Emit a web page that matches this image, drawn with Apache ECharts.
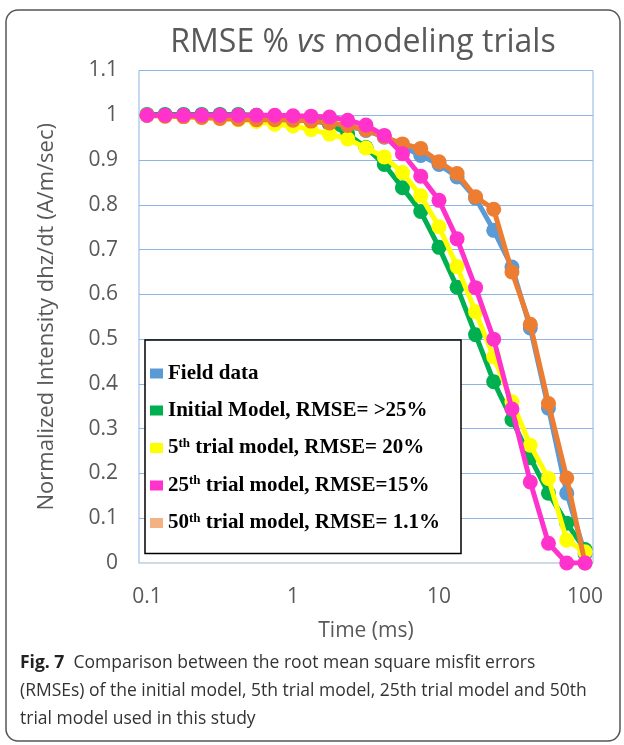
<!DOCTYPE html>
<html>
<head>
<meta charset="utf-8">
<script src="https://cdn.jsdelivr.net/npm/echarts@6/dist/echarts.min.js"></script>
<style>
  html, body { margin: 0; padding: 0; background: #fff; }
  #main { width: 624px; height: 745px; }
</style>
</head>
<body>
<div id="main"></div>
<script>
// time samples (ms)
var times = [0.1, 0.133, 0.178, 0.237, 0.316, 0.422, 0.562, 0.75, 1, 1.33, 1.78, 2.37, 3.16,
  4.22, 5.62, 7.5, 10, 13.3, 17.8, 23.7, 31.6, 42.2, 56.2, 75, 100];

var fieldData = [1, 1, 0.999, 0.998, 0.996, 0.994, 0.993, 0.992, 0.99, 0.987, 0.982, 0.976, 0.966,
  0.951, 0.93, 0.91, 0.89, 0.862, 0.815, 0.743, 0.661, 0.525, 0.346, 0.156, 0.02];
var initialModel = [1.002, 1.002, 1.002, 1.002, 1.002, 1.002, 1, 0.998, 0.996, 0.993, 0.98, 0.958, 0.928,
  0.89, 0.838, 0.785, 0.705, 0.616, 0.51, 0.405, 0.32, 0.235, 0.156, 0.089, 0.03];
var trial5 = [1, 0.998, 0.997, 0.995, 0.993, 0.99, 0.986, 0.98, 0.976, 0.968, 0.958, 0.947, 0.927,
  0.907, 0.872, 0.82, 0.751, 0.662, 0.561, 0.46, 0.36, 0.263, 0.189, 0.051, 0.025];
var trial25 = [1, 1, 1, 1, 1, 1, 1, 1, 0.999, 0.998, 0.996, 0.989, 0.978,
  0.955, 0.914, 0.864, 0.81, 0.724, 0.615, 0.5, 0.344, 0.181, 0.044, 0, 0];
var trial50 = [1, 0.998, 0.997, 0.995, 0.993, 0.991, 0.99, 0.99, 0.989, 0.987, 0.983, 0.977, 0.967,
  0.952, 0.936, 0.926, 0.896, 0.87, 0.818, 0.79, 0.65, 0.533, 0.356, 0.19, 0];

var seriesNames = ['Field data', 'Initial Model, RMSE= >25%', '5th trial model, RMSE= 20%',
  '25th trial model, RMSE=15%', '50th trial model, RMSE= 1.1%'];
var legendLabels = ['{t|Field data}', '{t|Initial Model, RMSE= >25%}', '{t|5}{s|th}{t| trial model, RMSE= 20%}',
  '{t|25}{s|th}{t| trial model, RMSE=15%}', '{t|50}{s|th}{t| trial model, RMSE= 1.1%}'];
var lineColors = ['#5B9BD5', '#00B050', '#FFFF00', '#FF33CC', '#ED7D31'];
var legendColors = ['#5B9BD5', '#00B050', '#FFFF00', '#FF33CC', '#F4B183'];

var chart = echarts.init(document.getElementById('main'), null, { renderer: 'canvas' });

var font = 'Open Sans';
var grey = '#595959';
var gridBlue = '#8EB4E3';

function makeSeries(idx, values, z) {
  return {
    type: 'line',
    name: seriesNames[idx],
    xAxisIndex: 1,
    yAxisIndex: 1,
    data: times.map(function (t, i) { return [t, values[i]]; }),
    symbol: 'circle',
    symbolSize: 15,
    showSymbol: true,
    lineStyle: { color: lineColors[idx], width: 5 },
    itemStyle: { color: lineColors[idx] },
    z: z,
    animation: false
  };
}

var option = {
  animation: false,
  grid: [
    { left: 139, right: 31, top: 70.5, bottom: 182, show: true, borderColor: gridBlue, borderWidth: 1 },
    { left: 147, right: 39, top: 70.5, bottom: 182 }
  ],
  xAxis: [
    {
      type: 'value', gridIndex: 0, min: 0, max: 1,
      axisLine: { show: true, lineStyle: { color: '#D9D9D9' } },
      axisTick: { show: false }, axisLabel: { show: false }, splitLine: { show: false }
    },
    {
      type: 'log', gridIndex: 1, logBase: 10, min: 0.1, max: 100,
      axisLine: { show: false }, axisTick: { show: false }, splitLine: { show: false },
      minorTick: { show: false },
      axisLabel: {
        margin: 24, fontFamily: font, fontSize: 21, color: grey,
        formatter: function (v) { return v < 1 ? v.toFixed(1) : String(Math.round(v)); }
      },
      name: 'Time (ms)', nameLocation: 'middle', nameGap: 58,
      nameTextStyle: { fontFamily: font, fontSize: 21, color: grey }
    }
  ],
  yAxis: [
    {
      type: 'value', gridIndex: 0, min: 0, max: 1.1, interval: 0.1,
      axisLine: { show: false }, axisTick: { show: false },
      splitLine: { show: true, lineStyle: { color: gridBlue, width: 1 } },
      axisLabel: { margin: 21, fontFamily: font, fontSize: 21, color: grey },
      name: 'Normalized Intensity dhz/dt (A/m/sec)', nameLocation: 'middle', nameGap: 81,
      nameTextStyle: { fontFamily: font, fontSize: 22, color: grey }
    },
    {
      type: 'value', gridIndex: 1, min: 0, max: 1.1, show: false
    }
  ],
  legend: {
    orient: 'vertical',
    left: 145, top: 340,
    padding: [23, 21, 20, 5],
    itemGap: 16,
    itemWidth: 13, itemHeight: 10,
    itemTextGap: 9,
    icon: 'rect',
    selectedMode: false,
    backgroundColor: '#fff',
    borderColor: '#000', borderWidth: 1.5,
    data: seriesNames.map(function (n, i) {
      return { name: n, itemStyle: { color: legendColors[i] } };
    }),
    formatter: function (name) { return legendLabels[seriesNames.indexOf(name)]; },
    textStyle: {
      fontFamily: 'Liberation Serif', fontWeight: 'bold', fontSize: 21, color: '#000',
      rich: {
        t: { fontFamily: 'Liberation Serif', fontWeight: 'bold', fontSize: 21, color: '#000', lineHeight: 22 },
        s: { fontFamily: 'Liberation Serif', fontWeight: 'bold', fontSize: 13, color: '#000', verticalAlign: 'top', lineHeight: 11 }
      }
    },
    z: 20
  },
  series: [
    makeSeries(0, fieldData, 2),
    makeSeries(1, initialModel, 3),
    makeSeries(2, trial5, 4),
    makeSeries(4, trial50, 5),
    makeSeries(3, trial25, 6)
  ],
  graphic: [
    {
      type: 'rect', shape: { x: 6, y: 10, width: 614, height: 731, r: 12 },
      style: { fill: 'none', stroke: '#555', lineWidth: 1.5 }, z: 50, silent: true
    },
    {
      type: 'text', x: 363, y: 43,
      style: {
        text: '{a|RMSE % }{i|vs}{a| modeling trials}',
        align: 'center', verticalAlign: 'middle',
        rich: {
          a: { fontFamily: font, fontSize: 32, fill: grey },
          i: { fontFamily: font, fontSize: 32, fontStyle: 'italic', fill: grey }
        }
      }
    },
    {
      type: 'text', x: 20, y: 649,
      style: {
        text: '{b|Fig. 7}{r|  Comparison between the root mean square misfit errors}\n' +
          '{r|(RMSEs) of the initial model, 5th trial model, 25th trial model and 50th}\n' +
          '{r|trial model used in this study}',
        rich: {
          b: { fontFamily: font, fontSize: 17.5, fontWeight: 'bold', fill: '#222', lineHeight: 28 },
          r: { fontFamily: font, fontSize: 17.5, fill: '#333', lineHeight: 28 }
        }
      }
    }
  ]
};

chart.setOption(option);
</script>
</body>
</html>
